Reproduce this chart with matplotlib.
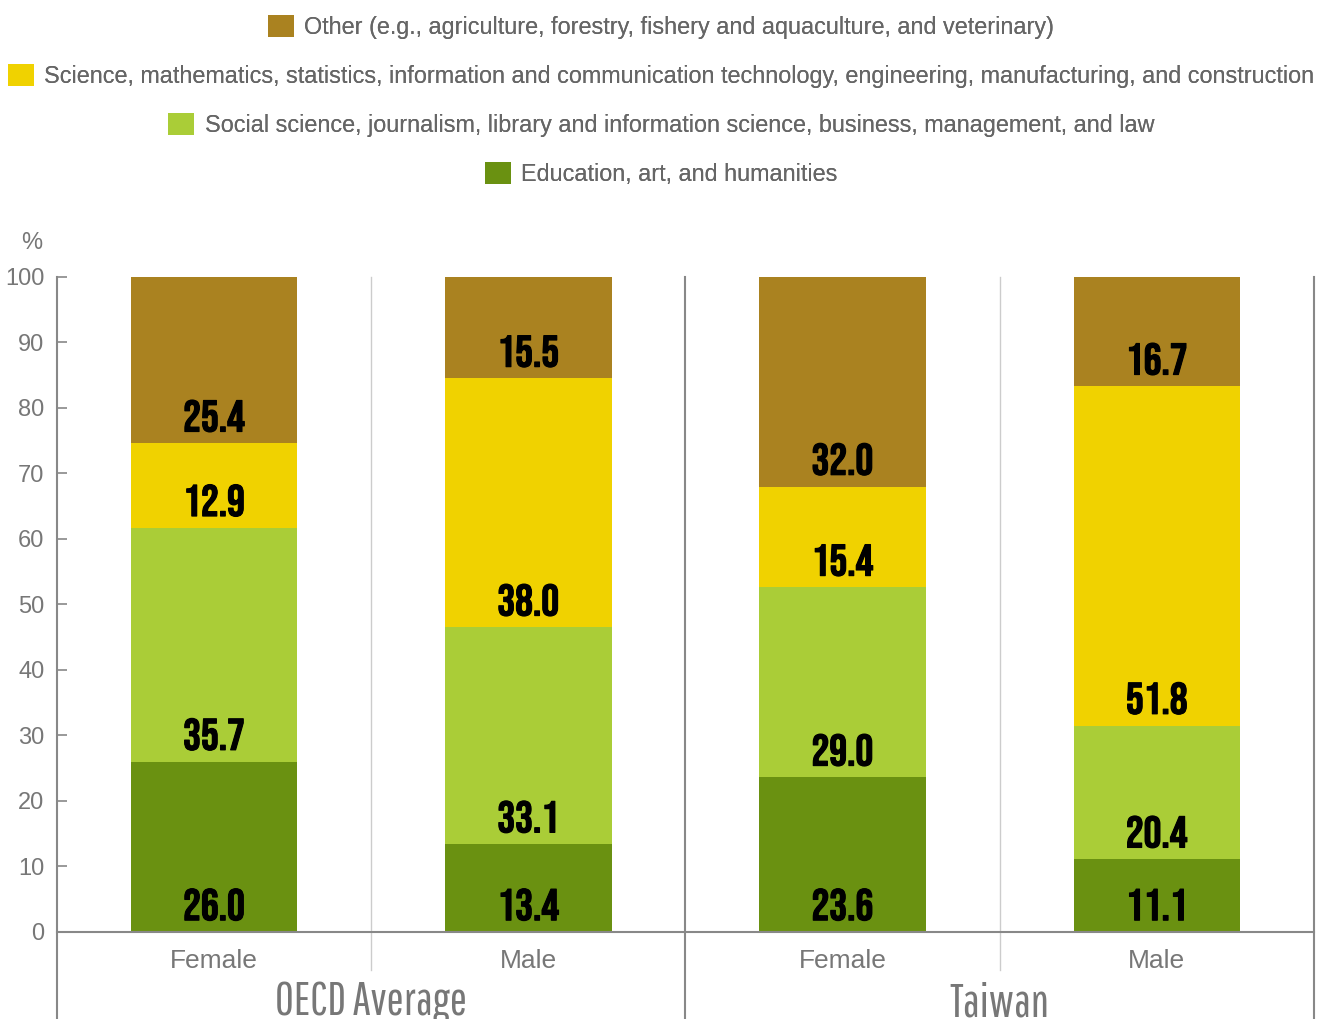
import matplotlib
matplotlib.use("Agg")
import matplotlib.pyplot as plt
import matplotlib.patheffects as pe
from matplotlib.patches import Patch
import numpy as np

plt.rcParams["font.family"] = ["Liberation Sans", "DejaVu Sans"]

bars = ["Female", "Male", "Female", "Male"]
groups = ["OECD Average", "Taiwan"]
fields = [
    "Education, art, and humanities",
    "Social science, journalism, library and information science, business, management, and law",
    "Science, mathematics, statistics, information and communication technology, engineering, manufacturing, and construction",
    "Other (e.g., agriculture, forestry, fishery and aquaculture, and veterinary)",
]
education = [26.0, 13.4, 23.6, 11.1]
social = [35.7, 33.1, 29.0, 20.4]
science = [12.9, 38.0, 15.4, 51.8]
other = [25.4, 15.5, 32.0, 16.7]
colors = ["#6A9111", "#AACD37", "#F0D200", "#AA8220"]

gray = "#777777"
num_font = ["Bebas Neue", "Oswald", "DejaVu Sans"]
grp_font = ["Pathway Gothic One", "Oswald", "DejaVu Sans"]

fig = plt.figure(figsize=(13.33, 10.19), dpi=100)
ax = fig.add_axes([0.0428, 0.0854, 0.9429, 0.6428])

x = np.arange(len(bars))
bottom = np.zeros(len(bars))
for vals, col in zip([education, social, science, other], colors):
    vals = np.array(vals)
    ax.bar(x, vals, width=0.53, bottom=bottom, color=col, zorder=2)
    for xi, b, v in zip(x, bottom, vals):
        ax.text(xi, b + 1.8, f"{v:.1f}", ha="center", va="baseline",
                fontsize=32, family=num_font, color="black", zorder=3,
                path_effects=[pe.withStroke(linewidth=0.8, foreground="black")])
    bottom += vals

ax.set_xlim(-0.5, 3.5)
ax.set_ylim(0, 100)
ax.set_yticks(range(0, 101, 10))
ax.tick_params(axis="y", direction="in", length=7, width=1.2, color="#888888",
               labelsize=17, labelcolor=gray, pad=9)
ax.set_xticks(x)
ax.set_xticklabels(bars)
ax.tick_params(axis="x", length=0, labelsize=19, labelcolor=gray, pad=12)

for s in ["top", "right", "left"]:
    ax.spines[s].set_visible(False)
ax.spines["bottom"].set_color("#888888")
ax.spines["bottom"].set_linewidth(1.5)

# separators
fig_bottom = -0.0854 / 0.6428
for xv in [-0.5, 1.5, 3.5]:
    ax.axvline(xv, ymin=fig_bottom, ymax=1, color="#888888", lw=1.5, clip_on=False, zorder=1)
for xv in [0.5, 2.5]:
    ax.axvline(xv, ymin=-0.058, ymax=1, color="#CCCCCC", lw=1.0, clip_on=False, zorder=1)

trans = ax.get_xaxis_transform()
for gi, g in enumerate(groups):
    ax.text(gi * 2 + 0.5, -0.108, g, transform=trans, ha="center", va="center",
            fontsize=33, family=grp_font, color=gray, clip_on=False)

fig.text(32 / 1333, 1 - 243 / 1019, "%", ha="center", va="center", fontsize=17, color=gray)

# legend rows, each centered
row_y = [0.8292, 0.8773, 0.9254, 0.9735]
for lab, col, yy in zip(fields, colors, row_y):
    leg = fig.legend([Patch(facecolor=col)], [lab], loc="center",
                     bbox_to_anchor=(0.496, yy), frameon=False, fontsize=16.8,
                     handlelength=1.1, handleheight=1.1, handletextpad=0.45,
                     labelcolor="#666666", borderpad=0, borderaxespad=0)
    fig.add_artist(leg)

fig.savefig("out.png", dpi=100)
